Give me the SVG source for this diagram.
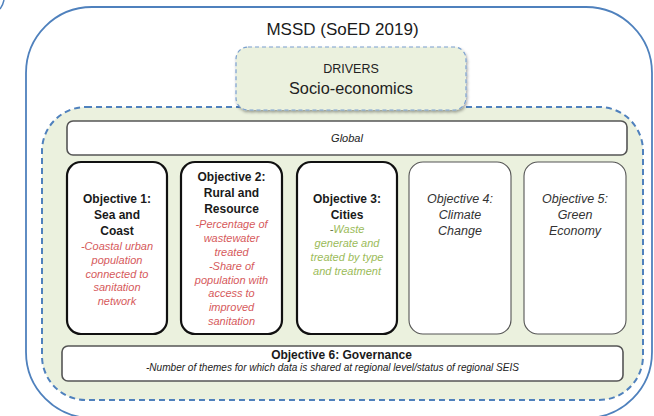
<svg xmlns="http://www.w3.org/2000/svg" width="654" height="416" viewBox="0 0 654 416">
<defs>
<style>
text{font-family:"Liberation Sans",Arial,sans-serif;text-anchor:middle}
.head{font-size:12px;font-weight:bold;fill:#1a1a1a}
.ital{font-size:12.5px;font-style:italic;fill:#333}
.red{font-size:11px;font-style:italic;fill:#d65a5c}
.grn{font-size:11px;font-style:italic;fill:#9bbb59}
.objb{fill:#fff;stroke:#111;stroke-width:2.2}
.objl{fill:#fff;stroke:#555;stroke-width:1.1}
.bar{fill:#fff;stroke:#555;stroke-width:1.6}
</style>
<filter id="sh" x="-10%" y="-10%" width="120%" height="130%">
<feDropShadow dx="1" dy="2" stdDeviation="1.5" flood-color="#000" flood-opacity="0.35"/>
</filter>
</defs>
<rect width="654" height="416" fill="#fff"/>
<path d="M0,9 Q3,5 4,0" fill="none" stroke="#4f81bd" stroke-width="1.5"/>
<g id="mssd">
<rect x="26" y="7" width="626" height="411" rx="66" fill="#fff" stroke="#4f81bd" stroke-width="1.8"/>
<text x="342.5" y="35" style="font-size:17px;fill:#1a1a1a">MSSD (SoED 2019)</text>
</g>
<g id="pressures">
<rect x="42" y="107" width="601" height="293" rx="44" fill="#ebf1de" stroke="#4f81bd" stroke-width="2" stroke-dasharray="6 4"/>
</g>
<g id="drivers">
<rect x="236" y="47" width="230" height="63" rx="12" fill="#ebf1de" stroke="#7ba0cf" stroke-width="1.2" stroke-dasharray="4 3" filter="url(#sh)"/>
<text x="351" y="73" style="font-size:12.5px;fill:#222">DRIVERS</text>
<text x="351" y="94" style="font-size:16.3px;fill:#222">Socio-economics</text>
</g>
<g id="global">
<rect class="bar" x="67" y="121" width="560" height="34" rx="6"/>
<text x="347" y="142" style="font-size:11px;font-style:italic;fill:#222">Global</text>
</g>
<g id="objective1">
<rect class="objb" x="67" y="162" width="100" height="172" rx="14"/>
<text class="head" x="117" y="203">Objective 1:</text>
<text class="head" x="117" y="219">Sea and</text>
<text class="head" x="117" y="235">Coast</text>
<text class="red" x="117" y="250">-Coastal urban</text>
<text class="red" x="117" y="264">population</text>
<text class="red" x="117" y="277.5">connected to</text>
<text class="red" x="117" y="291">sanitation</text>
<text class="red" x="117" y="304.5">network</text>
</g>
<g id="objective2">
<rect class="objb" x="181" y="162" width="101" height="172" rx="14"/>
<text class="head" x="231.5" y="181">Objective 2:</text>
<text class="head" x="231.5" y="197">Rural and</text>
<text class="head" x="231.5" y="213">Resource</text>
<text class="red" x="231.5" y="228">-Percentage of</text>
<text class="red" x="231.5" y="242">wastewater</text>
<text class="red" x="231.5" y="256">treated</text>
<text class="red" x="231.5" y="269.5">-Share of</text>
<text class="red" x="231.5" y="283.5">population with</text>
<text class="red" x="231.5" y="297">access to</text>
<text class="red" x="231.5" y="311">improved</text>
<text class="red" x="231.5" y="324.5">sanitation</text>
</g>
<g id="objective3">
<rect class="objb" x="297" y="162" width="100" height="172" rx="14"/>
<text class="head" x="347" y="203">Objective 3:</text>
<text class="head" x="347" y="219">Cities</text>
<text class="grn" x="347" y="233"><tspan fill="#6b7a55">-</tspan>Waste</text>
<text class="grn" x="347" y="247">generate and</text>
<text class="grn" x="347" y="261">treated by type</text>
<text class="grn" x="347" y="274.5">and treatment</text>
</g>
<g id="objective4">
<rect class="objl" x="409" y="162" width="102" height="172" rx="14"/>
<text class="ital" x="460" y="203">Objective 4:</text>
<text class="ital" x="460" y="219">Climate</text>
<text class="ital" x="460" y="235">Change</text>
</g>
<g id="objective5">
<rect class="objl" x="524" y="162" width="102" height="172" rx="14"/>
<text class="ital" x="575" y="203">Objective 5:</text>
<text class="ital" x="575" y="219">Green</text>
<text class="ital" x="575" y="235">Economy</text>
</g>
<g id="objective6">
<rect class="bar" x="62" y="346" width="561" height="35" rx="6"/>
<text class="head" x="341.5" y="358.5">Objective 6: Governance</text>
<text x="332.5" y="371" textLength="373" lengthAdjust="spacingAndGlyphs" style="font-size:10px;font-style:italic;fill:#222">-Number of themes for which data is shared at regional level/status of regional SEIS</text>
</g>
<g id="connectors"/>
</svg>
